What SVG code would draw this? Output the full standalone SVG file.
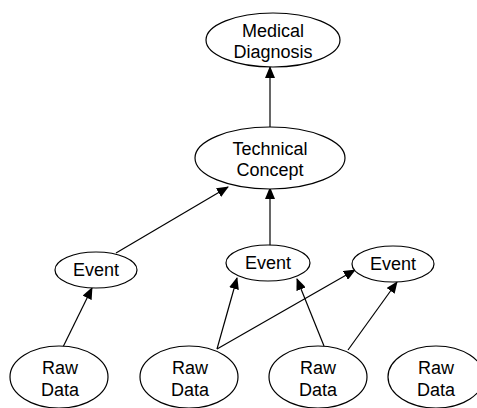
<svg xmlns="http://www.w3.org/2000/svg" width="477" height="408" viewBox="0 0 477 408">
<style>
.n ellipse{fill:#fff;stroke:#000;stroke-width:1.2}
.n text{font-family:"Liberation Sans",Arial,sans-serif;font-size:18px;fill:#000;text-anchor:middle}
.e line{stroke:#000;stroke-width:1.2;marker-end:url(#ah)}
</style>
<defs>
<marker id="ah" markerWidth="12" markerHeight="10" refX="11" refY="5" orient="auto" markerUnits="userSpaceOnUse">
<path d="M0,0 L12,5 L0,10 Z" fill="#000"/>
</marker>
</defs>
<rect width="477" height="408" fill="#fff"/>
<g id="edges" class="e">
<line x1="270" y1="127" x2="270" y2="67"/>
<line x1="116" y1="253" x2="228" y2="187"/>
<line x1="270" y1="246" x2="270" y2="188"/>
<line x1="63" y1="347" x2="92" y2="288"/>
<line x1="217" y1="349" x2="237" y2="278"/>
<line x1="217" y1="349" x2="355" y2="270"/>
<line x1="324" y1="346" x2="297" y2="279"/>
<line x1="348" y1="350" x2="397" y2="282"/>
</g>
<g id="medical" class="n"><ellipse cx="273" cy="40" rx="67" ry="27"/><text x="273" y="37">Medical</text><text x="273" y="58">Diagnosis</text></g>
<g id="technical" class="n"><ellipse cx="270" cy="158" rx="75" ry="31"/><text x="270" y="155">Technical</text><text x="270" y="176">Concept</text></g>
<g id="event1" class="n"><ellipse cx="96" cy="270" rx="41" ry="18"/><text x="96" y="276">Event</text></g>
<g id="event2" class="n"><ellipse cx="268" cy="263" rx="42" ry="18"/><text x="268" y="269">Event</text></g>
<g id="event3" class="n"><ellipse cx="393" cy="264" rx="41" ry="18"/><text x="393" y="270">Event</text></g>
<g id="raw1" class="n"><ellipse cx="59" cy="377" rx="49" ry="31"/><text x="60" y="374">Raw</text><text x="60" y="396">Data</text></g>
<g id="raw2" class="n"><ellipse cx="189" cy="377" rx="49" ry="31"/><text x="190" y="374">Raw</text><text x="190" y="396">Data</text></g>
<g id="raw3" class="n"><ellipse cx="318" cy="377" rx="49" ry="31"/><text x="318" y="374">Raw</text><text x="318" y="396">Data</text></g>
<g id="raw4" class="n"><ellipse cx="436" cy="377" rx="48" ry="31"/><text x="436" y="374">Raw</text><text x="436" y="396">Data</text></g>
</svg>
